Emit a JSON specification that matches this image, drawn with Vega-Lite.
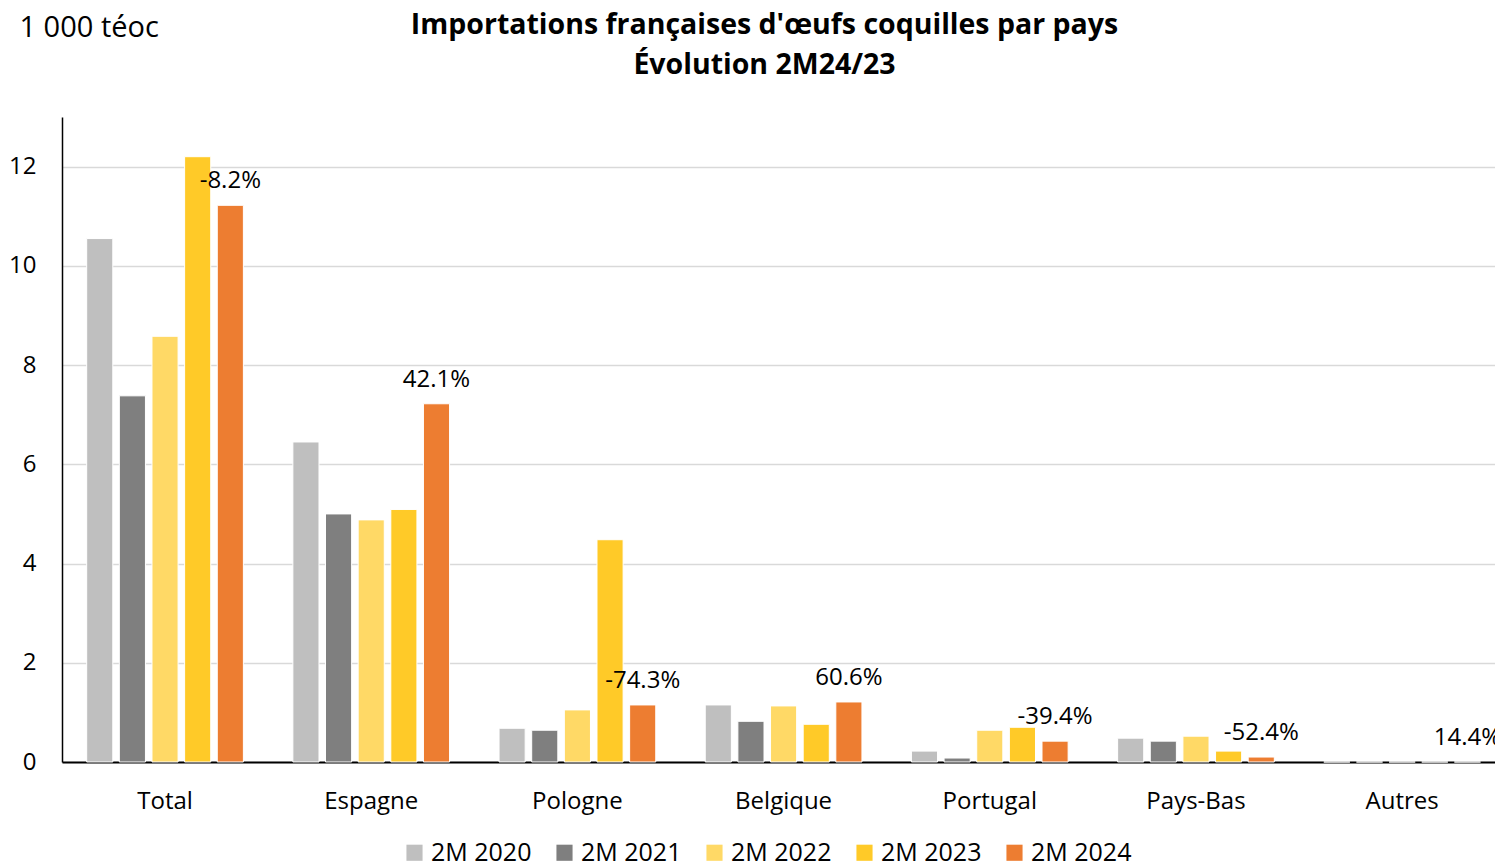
{
  "$schema": "https://vega.github.io/schema/vega-lite/v6.json",
  "width": 1433,
  "height": 645,
  "autosize": {"type": "none"},
  "padding": {"left": 62, "top": 117, "right": 0, "bottom": 104},
  "background": "white",
  "config": {
    "font": "Open Sans",
    "view": {"stroke": null}
  },
  "title": {
    "text": ["Importations françaises d'œufs coquilles par pays", "Évolution 2M24/23"],
    "anchor": "middle",
    "dx": -14,
    "fontSize": 28.5,
    "fontWeight": "bold",
    "font": "Open Sans",
    "color": "#000000",
    "lineHeight": 40,
    "offset": -66
  },
  "data": {
    "values": [
      {"pays": "Total", "annee": "2M 2020", "valeur": 10.55},
      {"pays": "Total", "annee": "2M 2021", "valeur": 7.38},
      {"pays": "Total", "annee": "2M 2022", "valeur": 8.58},
      {"pays": "Total", "annee": "2M 2023", "valeur": 12.2},
      {"pays": "Total", "annee": "2M 2024", "valeur": 11.22, "label": "-8.2%"},
      {"pays": "Espagne", "annee": "2M 2020", "valeur": 6.45},
      {"pays": "Espagne", "annee": "2M 2021", "valeur": 5.0},
      {"pays": "Espagne", "annee": "2M 2022", "valeur": 4.88},
      {"pays": "Espagne", "annee": "2M 2023", "valeur": 5.09},
      {"pays": "Espagne", "annee": "2M 2024", "valeur": 7.22, "label": "42.1%"},
      {"pays": "Pologne", "annee": "2M 2020", "valeur": 0.68},
      {"pays": "Pologne", "annee": "2M 2021", "valeur": 0.64},
      {"pays": "Pologne", "annee": "2M 2022", "valeur": 1.05},
      {"pays": "Pologne", "annee": "2M 2023", "valeur": 4.48},
      {"pays": "Pologne", "annee": "2M 2024", "valeur": 1.15, "label": "-74.3%"},
      {"pays": "Belgique", "annee": "2M 2020", "valeur": 1.15},
      {"pays": "Belgique", "annee": "2M 2021", "valeur": 0.82},
      {"pays": "Belgique", "annee": "2M 2022", "valeur": 1.13},
      {"pays": "Belgique", "annee": "2M 2023", "valeur": 0.76},
      {"pays": "Belgique", "annee": "2M 2024", "valeur": 1.21, "label": "60.6%"},
      {"pays": "Portugal", "annee": "2M 2020", "valeur": 0.22},
      {"pays": "Portugal", "annee": "2M 2021", "valeur": 0.08},
      {"pays": "Portugal", "annee": "2M 2022", "valeur": 0.64},
      {"pays": "Portugal", "annee": "2M 2023", "valeur": 0.7},
      {"pays": "Portugal", "annee": "2M 2024", "valeur": 0.42, "label": "-39.4%"},
      {"pays": "Pays-Bas", "annee": "2M 2020", "valeur": 0.48},
      {"pays": "Pays-Bas", "annee": "2M 2021", "valeur": 0.42},
      {"pays": "Pays-Bas", "annee": "2M 2022", "valeur": 0.52},
      {"pays": "Pays-Bas", "annee": "2M 2023", "valeur": 0.22},
      {"pays": "Pays-Bas", "annee": "2M 2024", "valeur": 0.1, "label": "-52.4%"},
      {"pays": "Autres", "annee": "2M 2020", "valeur": 0.0},
      {"pays": "Autres", "annee": "2M 2021", "valeur": 0.0},
      {"pays": "Autres", "annee": "2M 2022", "valeur": 0.0},
      {"pays": "Autres", "annee": "2M 2023", "valeur": 0.0},
      {"pays": "Autres", "annee": "2M 2024", "valeur": 0.0, "label": "14.4%"}
    ]
  },
  "encoding": {
    "x": {
      "field": "pays",
      "type": "nominal",
      "sort": ["Total", "Espagne", "Pologne", "Belgique", "Portugal", "Pays-Bas", "Autres"],
      "scale": {"paddingInner": 0.24, "paddingOuter": 0.095, "align": 0.63},
      "axis": {
        "title": null,
        "labelAngle": 0,
        "labelFontSize": 24,
        "labelColor": "#000000",
        "labelPadding": 27,
        "ticks": false,
        "domainColor": "#000000",
        "domainWidth": 2
      }
    },
    "xOffset": {
      "field": "annee",
      "type": "nominal",
      "scale": {"paddingInner": 0.2}
    },
    "y": {
      "field": "valeur",
      "type": "quantitative",
      "scale": {"domain": [0, 13], "nice": false},
      "axis": {
        "values": [0, 2, 4, 6, 8, 10, 12],
        "title": "1 000 téoc",
        "titleAngle": 0,
        "titleAlign": "left",
        "titleBaseline": "middle",
        "titleX": -43,
        "titleY": -90,
        "titleFontSize": 29,
        "titleFontWeight": "normal",
        "titleColor": "#000000",
        "labelFontSize": 24,
        "labelColor": "#000000",
        "labelPadding": 26,
        "ticks": false,
        "domainColor": "#000000",
        "domainWidth": 1.5,
        "gridColor": "#D9D9D9",
        "gridWidth": 1.5
      }
    }
  },
  "layer": [
    {
      "mark": {"type": "bar", "stroke": "white", "strokeWidth": 1},
      "encoding": {
        "color": {
          "field": "annee",
          "type": "nominal",
          "scale": {
            "domain": ["2M 2020", "2M 2021", "2M 2022", "2M 2023", "2M 2024"],
            "range": ["#BFBFBF", "#7F7F7F", "#FFD966", "#FFCA28", "#ED7D31"]
          },
          "legend": {
            "title": null,
            "orient": "none",
            "direction": "horizontal",
            "legendX": 340,
            "legendY": 723,
            "symbolType": "square",
            "symbolSize": 260,
            "symbolStrokeWidth": 0,
            "labelFontSize": 25,
            "labelColor": "#000000",
            "labelOffset": 4,
            "columnPadding": 20
          }
        }
      }
    },
    {
      "transform": [{"filter": "isValid(datum.label)"}],
      "mark": {"type": "text", "baseline": "bottom", "dy": -12, "fontSize": 24, "color": "#000000"},
      "encoding": {
        "text": {"field": "label"}
      }
    }
  ]
}
